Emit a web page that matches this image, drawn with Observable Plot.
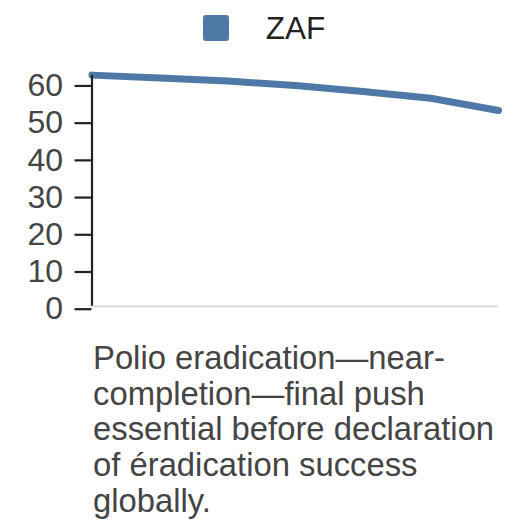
<!DOCTYPE html>
<html><head><meta charset="utf-8">
<script src="https://cdn.jsdelivr.net/npm/d3@7"></script>
<script src="https://cdn.jsdelivr.net/npm/@observablehq/plot@0.6"></script>
<style>
html,body{margin:0;padding:0;background:#fff;}
body{width:528px;height:528px;overflow:hidden;font-family:"Liberation Sans",Arial,sans-serif;}
#legend{height:56px;display:flex;align-items:center;justify-content:center;}
.sw{width:26px;height:26px;border-radius:3px;background:#4e79a7;margin-right:37px;}
.lab{font-size:31.5px;color:#222;}
#chart svg{display:block;}
#chart svg g[aria-label="y-axis tick label"],
#chart svg g[aria-label="y-axis tick label"] text{font-size:32px !important;}
#caption{margin:14px 0 0 93px;width:425px;font-size:32.8px;line-height:35.7px;color:#444;}
</style></head><body>
<div id="legend"><div class="sw"></div><div class="lab"></div></div>
<div id="chart"></div>
<div id="caption"></div>
<script>
const seriesName = "ZAF";
const periods = [1, 2, 3, 4, 5, 6, 7];
const values = [62.1, 61.3, 60.5, 59.3, 57.7, 55.9, 52.6];
const yTicks = [0, 10, 20, 30, 40, 50, 60];
const yMax = 62;
const captionText = "Polio eradication—near-completion—final push essential before declaration of éradication success globally.";

const data = periods.map((p, i) => ({period: p, value: values[i], series: seriesName}));

document.querySelector("#legend .lab").textContent = seriesName;
document.getElementById("caption").textContent = captionText;

const chart = Plot.plot({
  width: 528,
  height: 270,
  marginLeft: 91.5,
  marginRight: 30,
  marginTop: 19,
  marginBottom: 20.3,
  style: {fontFamily: "'Liberation Sans', Arial, sans-serif", fontSize: "32px", color: "#444", background: "white", overflow: "visible"},
  x: {type: "linear", domain: [periods[0], periods[periods.length - 1]], axis: null},
  y: {domain: [0, yMax], label: null},
  marks: [
    Plot.ruleY([0], {stroke: "#dfe2e6", strokeWidth: 2.5}),
    Plot.line(data, {x: "period", y: "value", stroke: "#4e79a7", strokeWidth: 7}),
    Plot.ruleX([periods[0]], {y1: 0, y2: yMax, stroke: "#222", strokeWidth: 2.2}),
    Plot.axisY(yTicks, {tickSize: 17, tickPadding: 12, stroke: "#222", strokeWidth: 2.2, fontSize: 32, label: null, dy: 3})
  ]
});
document.getElementById("chart").appendChild(chart);
</script>
</body></html>
